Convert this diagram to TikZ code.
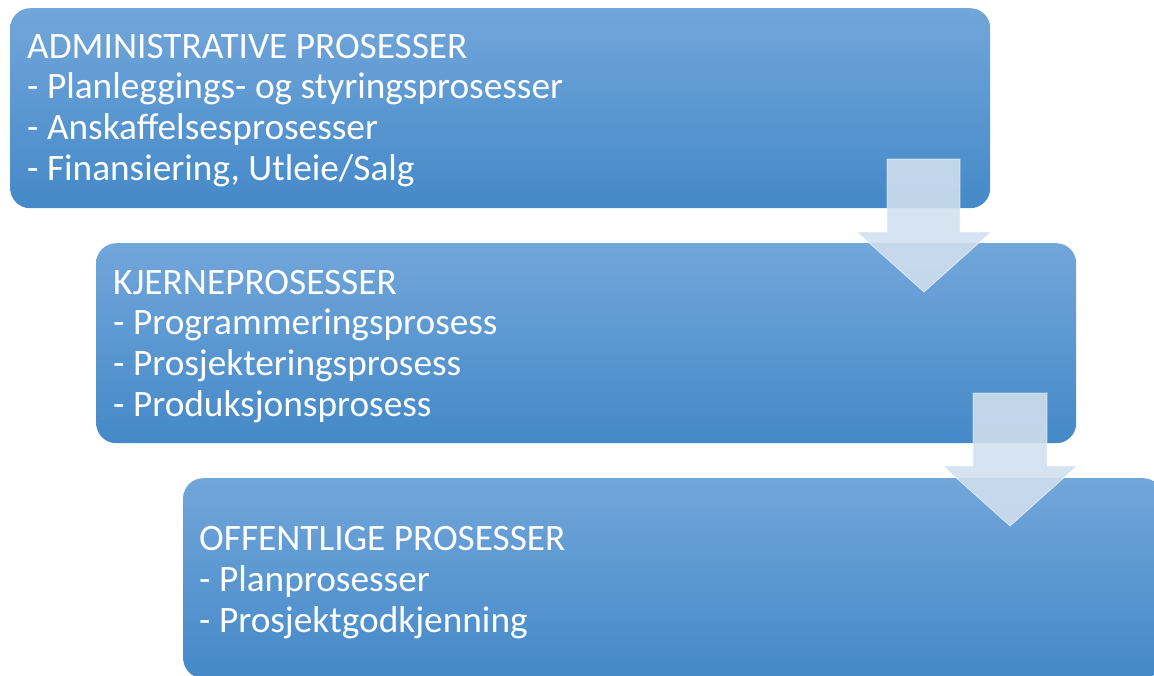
\documentclass[tikz,border=0pt]{standalone}
\usepackage{fontspec}
\setmainfont{Carlito}
\definecolor{boxtop}{RGB}{114,166,218}
\definecolor{boxmid}{RGB}{86,155,222}
\definecolor{boxbot}{RGB}{68,137,200}
\definecolor{arrowfill}{RGB}{209,223,238}
\begin{document}
\begin{tikzpicture}[x=1pt,y=-1pt,
  procbox/.style={rounded corners=20pt, shading=axis, top color=boxtop,
    middle color=boxmid, bottom color=boxbot, minimum width=980pt,
    minimum height=200pt, anchor=north west, inner sep=0pt, draw=none},
  proctext/.style={anchor=base west, text=white, align=left,
    font=\fontsize{37.3}{40.6}\selectfont, inner sep=0pt},
  flowarrow/.style={fill=arrowfill, fill opacity=0.89, draw=white,
    draw opacity=0.6, line width=0.8pt}]
\useasboundingbox (0,0) rectangle (1154,675);
\clip (0,0) rectangle (1154,675);

% process boxes
\node[procbox] (adm) at (10,8) {};
\node[procbox] (core) at (96,243) {};
\node[procbox] (pub) at (183,478) {};

% box texts, placed by the baseline of their last line
\node[proctext] (admtext) at (27,180) {ADMINISTRATIVE PROSESSER\\- Planleggings- og styringsprosesser\\- Anskaffelsesprosesser\\- Finansiering, Utleie/Salg};
\node[proctext] (coretext) at (113,416) {KJERNEPROSESSER\\- Programmeringsprosess\\- Prosjekteringsprosess\\- Produksjonsprosess};
\node[proctext] (pubtext) at (199,632) {OFFENTLIGE PROSESSER\\- Planprosesser\\- Prosjektgodkjenning};

% downward flow arrows
\draw[flowarrow] (887,159) -- (960,159) -- (960,232) -- (991,232) -- (924,292)
  -- (857,232) -- (887,232) -- cycle;
\draw[flowarrow] (973,393) -- (1047,393) -- (1047,466) -- (1077,466) -- (1010,526)
  -- (943,466) -- (973,466) -- cycle;
\end{tikzpicture}
\end{document}
